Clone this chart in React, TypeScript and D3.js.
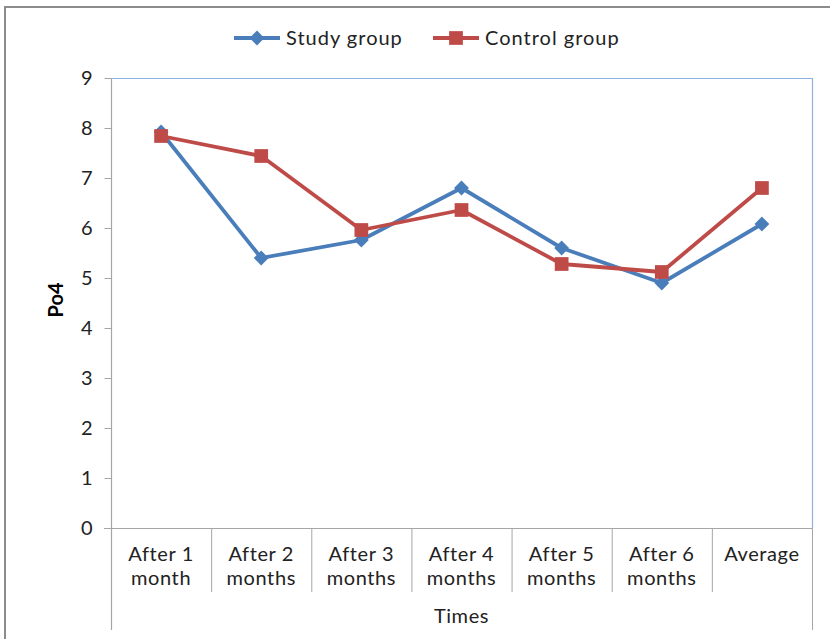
import { useEffect, useRef } from 'react';
import * as d3 from 'd3';

const categories = [
  ['After 1', 'month'],
  ['After 2', 'months'],
  ['After 3', 'months'],
  ['After 4', 'months'],
  ['After 5', 'months'],
  ['After 6', 'months'],
  ['Average'],
];
const studyGroup = [7.92, 5.4, 5.76, 6.8, 5.6, 4.9, 6.08];
const controlGroup = [7.84, 7.44, 5.96, 6.36, 5.28, 5.12, 6.8];
const yTicks = [0, 1, 2, 3, 4, 5, 6, 7, 8, 9];

const BLUE = '#4a7ebb';
const RED = '#be4b48';
const FONT = 'Lato, "Noto Sans", sans-serif';
const FS = '20px';
const LS = '0.6px';

const App = () => {
  const svgRef = useRef<SVGSVGElement>(null);

  useEffect(() => {
    const width = 830;
    const height = 639;
    const svg = d3.select(svgRef.current).attr('width', width).attr('height', height);
    svg.selectAll('*').remove();

    const plot = { left: 111, right: 812, top: 78, bottom: 528 };

    // outer chart frame
    svg
      .append('rect')
      .attr('x', 5)
      .attr('y', 7)
      .attr('width', 840)
      .attr('height', 650)
      .attr('fill', 'white')
      .attr('stroke', '#8c8c8c')
      .attr('stroke-width', 2);

    const x = d3
      .scaleBand()
      .domain(categories.map((_, i) => String(i)))
      .range([plot.left, plot.right])
      .padding(0);

    const y = d3.scaleLinear().domain([0, 9]).range([plot.bottom, plot.top]);

    // plot area border (top & right, blue)
    svg
      .append('path')
      .attr('d', `M${plot.left},${plot.top + 0.5}H${plot.right + 0.5}V${plot.bottom}`)
      .attr('fill', 'none')
      .attr('stroke', '#8db3e2')
      .attr('stroke-width', 1.2);

    // right border continues down past the category labels
    svg
      .append('line')
      .attr('x1', plot.right + 0.5)
      .attr('x2', plot.right + 0.5)
      .attr('y1', plot.bottom)
      .attr('y2', 630)
      .attr('stroke', '#a6a6a6');

    // y axis
    const yAxis = svg
      .append('g')
      .attr('transform', `translate(${plot.left + 0.5},0)`)
      .call(d3.axisLeft(y).tickValues(yTicks).tickSize(7).tickSizeOuter(0).tickPadding(12));
    yAxis.select('.domain').remove();
    yAxis.selectAll('line').attr('stroke', '#a6a6a6');
    yAxis
      .selectAll('text')
      .style('font-family', FONT)
      .style('font-size', FS)
      .attr('fill', '#222');

    // left axis line extends to bottom of category area
    svg
      .append('line')
      .attr('x1', plot.left + 0.5)
      .attr('x2', plot.left + 0.5)
      .attr('y1', plot.top)
      .attr('y2', 630)
      .attr('stroke', '#a6a6a6')
      .attr('stroke-width', 1.2);

    // x axis line
    svg
      .append('line')
      .attr('x1', plot.left - 7)
      .attr('x2', plot.right)
      .attr('y1', plot.bottom + 0.5)
      .attr('y2', plot.bottom + 0.5)
      .attr('stroke', '#a6a6a6')
      .attr('stroke-width', 1.2);

    // category separators
    const bounds = x.domain().slice(1).map(d => x(d) as number);
    svg
      .selectAll('.sep')
      .data(bounds)
      .enter()
      .append('line')
      .attr('x1', d => d + 0.5)
      .attr('x2', d => d + 0.5)
      .attr('y1', plot.bottom)
      .attr('y2', 592)
      .attr('stroke', '#a6a6a6');

    // category labels
    const catG = svg
      .selectAll('.cat')
      .data(categories)
      .enter()
      .append('text')
      .attr('text-anchor', 'middle')
      .style('font-family', FONT)
      .style('font-size', FS)
      .style('letter-spacing', LS)
      .attr('fill', '#222');
    catG
      .selectAll('tspan')
      .data((d, i) => d.map(t => ({ t, i })))
      .enter()
      .append('tspan')
      .attr('x', d => (x(String(d.i)) as number) + x.bandwidth() / 2)
      .attr('y', (d, j) => 561 + j * 24)
      .text(d => d.t);

    // axis titles
    svg
      .append('text')
      .attr('x', (plot.left + plot.right) / 2)
      .attr('y', 623)
      .attr('text-anchor', 'middle')
      .style('font-family', FONT)
      .style('font-size', FS)
      .style('letter-spacing', LS)
      .attr('fill', '#222')
      .text('Times');

    svg
      .append('text')
      .attr('transform', `translate(63,${(plot.top + plot.bottom) / 2 - 3}) rotate(-90)`)
      .attr('text-anchor', 'middle')
      .style('font-family', FONT)
      .style('font-size', FS)
      .style('font-weight', 'bold')
      .attr('fill', '#000')
      .text('Po4');

    const cx = (i: number) => (x(String(i)) as number) + x.bandwidth() / 2;
    const line = d3
      .line<number>()
      .x((_, i) => cx(i))
      .y(d => y(d));

    const diamond = d3.symbol().type(d3.symbolDiamond2).size(140);
    const square = d3.symbol().type(d3.symbolSquare2).size(240);

    const series = [
      { name: 'Study group', values: studyGroup, color: BLUE, marker: diamond },
      { name: 'Control group', values: controlGroup, color: RED, marker: square },
    ];

    series.forEach(s => {
      svg
        .append('path')
        .datum(s.values)
        .attr('fill', 'none')
        .attr('stroke', s.color)
        .attr('stroke-width', 3.8)
        .attr('stroke-linejoin', 'round')
        .attr('d', line);
      svg
        .selectAll(null)
        .data(s.values)
        .enter()
        .append('path')
        .attr('transform', (d, i) => `translate(${cx(i)},${y(d)})`)
        .attr('d', s.marker() as string)
        .attr('fill', s.color);
    });

    // legend
    const legendItems = [
      { ...series[0], x0: 234 },
      { ...series[1], x0: 433 },
    ];
    legendItems.forEach(s => {
      const g = svg.append('g').attr('transform', `translate(${s.x0},38)`);
      g.append('line')
        .attr('x1', 0)
        .attr('x2', 46)
        .attr('stroke', s.color)
        .attr('stroke-width', 3.8);
      g.append('path')
        .attr('transform', 'translate(23,0)')
        .attr('d', s.marker() as string)
        .attr('fill', s.color);
      g.append('text')
        .attr('x', 52)
        .attr('y', 7)
        .style('font-family', FONT)
        .style('font-size', FS)
        .style('letter-spacing', '1px')
        .attr('fill', '#222')
        .text(s.name);
    });
  }, []);

  return (
    <div style={{ position: 'absolute', left: 0, top: 0 }}>
      <svg ref={svgRef} style={{ display: 'block' }}></svg>
    </div>
  );
};

export default App;
